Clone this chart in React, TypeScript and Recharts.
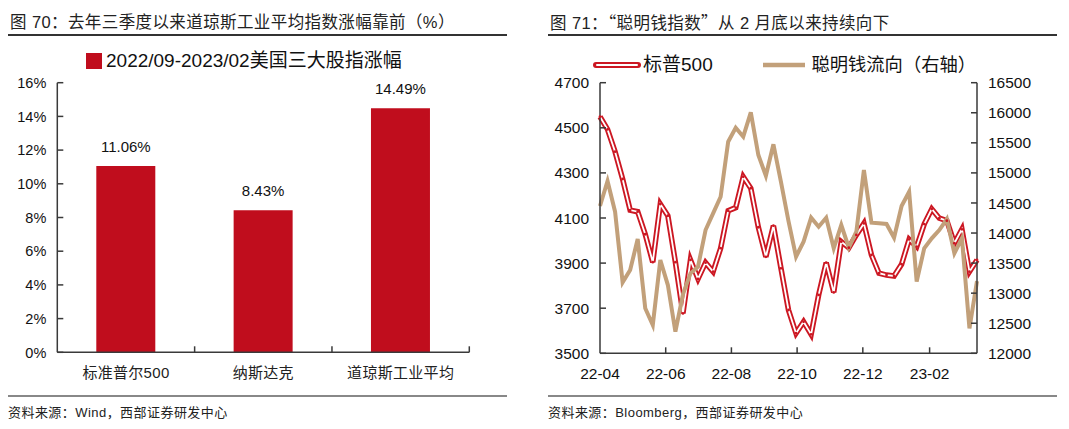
import React from 'react';
import { BarChart, Bar, XAxis, YAxis, LabelList, Legend, LineChart, Line } from 'recharts';

// ---------- Left chart data ----------
const barCategories = ['标准普尔500', '纳斯达克', '道琼斯工业平均'];
const barValues = [11.06, 8.43, 14.49];
const barYTicks = [0, 2, 4, 6, 8, 10, 12, 14, 16];
const barSeriesName = '2022/09-2023/02美国三大股指涨幅';

// ---------- Right chart data ----------
const weekDates = [
  '2022-04-01', '2022-04-08', '2022-04-15', '2022-04-22', '2022-04-29',
  '2022-05-06', '2022-05-13', '2022-05-20', '2022-05-27',
  '2022-06-03', '2022-06-10', '2022-06-17', '2022-06-24',
  '2022-07-01', '2022-07-08', '2022-07-15', '2022-07-22', '2022-07-29',
  '2022-08-05', '2022-08-12', '2022-08-19', '2022-08-26',
  '2022-09-02', '2022-09-09', '2022-09-16', '2022-09-23', '2022-09-30',
  '2022-10-07', '2022-10-14', '2022-10-21', '2022-10-28',
  '2022-11-04', '2022-11-11', '2022-11-18', '2022-11-25',
  '2022-12-02', '2022-12-09', '2022-12-16', '2022-12-23', '2022-12-30',
  '2023-01-06', '2023-01-13', '2023-01-20', '2023-01-27',
  '2023-02-03', '2023-02-10', '2023-02-17', '2023-02-24',
  '2023-03-03', '2023-03-10', '2023-03-17',
];
const spxValues = [
  4549, 4493, 4394, 4273, 4135, 4128, 4028, 3904, 4162, 4110,
  3904, 3677, 3914, 3830, 3902, 3862, 3966, 4132, 4146, 4283,
  4232, 4059, 3928, 4066, 3877, 3692, 3589, 3640, 3584, 3759,
  3902, 3770, 3995, 3968, 4025, 4076, 3936, 3855, 3847, 3843,
  3895, 4005, 3973, 4073, 4140, 4099, 4088, 3988, 4050, 3862,
  3914,
];
const smartMoneyValues = [
  14450, 14865, 14355, 13180, 13385, 13900, 12748, 12470, 13551, 13135,
  12359, 12980, 13330, 13440, 14050, 14328, 14604, 15519, 15752, 15602,
  16008, 15298, 14953, 15476, 14850, 14200, 13606, 13856, 14255, 14105,
  14255, 13746, 14133, 13756, 14022, 15048, 14172, 14162, 14150, 13922,
  14449, 14687, 13191, 13746, 13912, 14050, 14233, 13663, 13912, 12415,
  13200,
];
const lineXTickDates = ['2022-04-01', '2022-06-01', '2022-08-01', '2022-10-01', '2022-12-01', '2023-02-01'];
const spxTicks = [3500, 3700, 3900, 4100, 4300, 4500, 4700];
const smartTicks = [12000, 12500, 13000, 13500, 14000, 14500, 15000, 15500, 16000, 16500];
const spxName = '标普500';
const smartName = '聪明钱流向（右轴）';

// ---------- styles ----------
const FONT = "'Liberation Sans', Arial, 'Noto Sans CJK SC', sans-serif";
const CJKONLY = "'Noto Sans CJK SC', sans-serif";
const AX = '#3a3a3a';
const BAR = '#C00D1D';
const RED = '#CC1722';
const TAN = '#C2A07A';

const toTs = (s: string) => {
  const [y, m, d] = s.split('-').map(Number);
  return Date.UTC(y, m - 1, d);
};

const barData = barCategories.map((name, i) => ({ name, value: barValues[i] }));
const lineData = weekDates.map((d, i) => ({ t: toTs(d), spx: spxValues[i], smart: smartMoneyValues[i] }));
const lineXTicks = lineXTickDates.map(toTs);
const fmtMonth = (t: number) => {
  const d = new Date(t);
  const yy = String(d.getUTCFullYear()).slice(2);
  const mm = String(d.getUTCMonth() + 1).padStart(2, '0');
  return `${yy}-${mm}`;
};

const BAR_PLOT_W = 412;

function LeftYTick(props: any) {
  const { x, y, payload, fmt, size } = props;
  return (
    <g>
      <line x1={x} x2={x + 6} y1={y} y2={y} stroke={AX} strokeWidth={1.5} />
      <text x={x - 11} y={y} dy="0.36em" textAnchor="end" fill="#111" fontSize={size} fontFamily={FONT}>
        {fmt(payload.value)}
      </text>
    </g>
  );
}

function RightYTick(props: any) {
  const { x, y, payload, size } = props;
  return (
    <g>
      <line x1={x - 6} x2={x} y1={y} y2={y} stroke={AX} strokeWidth={1.5} />
      <text x={x + 11} y={y} dy="0.36em" textAnchor="start" fill="#111" fontSize={size} fontFamily={FONT}>
        {payload.value}
      </text>
    </g>
  );
}

function BarXTick(props: any) {
  const { x, y, payload } = props;
  const bx = x + BAR_PLOT_W / 6;
  return (
    <g>
      <line x1={bx} x2={bx} y1={y} y2={y - 6} stroke={AX} strokeWidth={1.5} />
      <text x={x} y={y + 20.5} dy="0.36em" textAnchor="middle" fill="#222" fontSize={15} fontFamily={FONT} letterSpacing={0.3}>
        {payload.value}
      </text>
    </g>
  );
}

function LineXTick(props: any) {
  const { x, y, payload, index } = props;
  return (
    <g>
      {index > 0 && <line x1={x} x2={x} y1={y} y2={y - 6} stroke={AX} strokeWidth={1.5} />}
      <text x={x} y={y + 20.5} dy="0.36em" textAnchor="middle" fill="#111" fontSize={15.5} fontFamily={FONT}>
        {fmtMonth(payload.value)}
      </text>
    </g>
  );
}

const titleStyle: React.CSSProperties = {
  position: 'absolute',
  top: 10,
  fontSize: 16.5,
  lineHeight: '24px',
  letterSpacing: 0.4,
  color: '#222',
  fontFamily: FONT,
  whiteSpace: 'nowrap',
};
const footStyle: React.CSSProperties = {
  position: 'absolute',
  top: 403,
  fontSize: 13,
  lineHeight: '20px',
  letterSpacing: 0.45,
  color: '#222',
  fontFamily: FONT,
  whiteSpace: 'nowrap',
};

export default function App() {
  return (
    <div style={{ position: 'absolute', left: 0, top: 0, width: 1069, height: 429, background: '#fff', overflow: 'hidden' }}>
      {/* titles */}
      <div style={{ ...titleStyle, left: 10 }}>图 70：去年三季度以来道琼斯工业平均指数涨幅靠前（%）</div>
      <div style={{ ...titleStyle, left: 550 }}>
        图 71：<span style={{ fontFamily: CJKONLY }}>“</span>聪明钱指数<span style={{ fontFamily: CJKONLY }}>”</span>从 2 月底以来持续向下
      </div>
      <div style={{ position: 'absolute', left: 8, top: 34, width: 499, height: 1.5, background: '#333' }} />
      <div style={{ position: 'absolute', left: 548, top: 34, width: 509, height: 1.5, background: '#333' }} />

      {/* left chart */}
      <div style={{ position: 'absolute', left: 0, top: 0 }}>
        <BarChart width={540} height={429} data={barData} margin={{ top: 82.7, right: 70.7, bottom: 46.7, left: 0 }}>
          <XAxis
            dataKey="name"
            height={30}
            interval={0}
            tickSize={0}
            tickMargin={0}
            tickLine={false}
            axisLine={{ stroke: AX, strokeWidth: 1.5 }}
            tick={<BarXTick />}
          />
          <YAxis
            width={57.3}
            domain={[0, 16]}
            ticks={barYTicks}
            interval={0}
            tickSize={0}
            tickMargin={0}
            tickLine={false}
            axisLine={{ stroke: AX, strokeWidth: 1.5 }}
            tick={<LeftYTick fmt={(v: number) => `${v}%`} size={14.5} />}
          />
          <Legend
            verticalAlign="middle"
            align="center"
            layout="horizontal"
            wrapperStyle={{ top: 0, left: 0, width: 540, height: 80 }}
            content={() => (
              <div style={{ position: 'relative', width: 540, height: 80 }}>
                <div style={{ position: 'absolute', left: 86, top: 53, width: 15.5, height: 15.5, background: BAR }} />
                <div style={{ position: 'absolute', left: 106, top: 48, fontSize: 19, lineHeight: '26px', color: '#111', fontFamily: FONT, whiteSpace: 'nowrap' }}>
                  {barSeriesName}
                </div>
              </div>
            )}
          />
          <Bar dataKey="value" fill={BAR} barSize={59} isAnimationActive={false}>
            <LabelList
              dataKey="value"
              position="top"
              offset={14}
              formatter={(v: any) => `${Number(v).toFixed(2)}%`}
              fill="#111"
              fontSize={15}
              fontFamily={FONT}
            />
          </Bar>
        </BarChart>
      </div>

      {/* right chart */}
      <div style={{ position: 'absolute', left: 540, top: 0 }}>
        <LineChart width={529} height={429} data={lineData} margin={{ top: 82.7, right: 32, bottom: 45.7, left: 0 }}>
          <XAxis
            dataKey="t"
            type="number"
            domain={[lineData[0].t, lineData[lineData.length - 1].t]}
            ticks={lineXTicks}
            interval={0}
            height={30}
            tickSize={0}
            tickMargin={0}
            tickLine={false}
            axisLine={{ stroke: AX, strokeWidth: 1.5 }}
            tick={<LineXTick />}
          />
          <YAxis
            yAxisId="left"
            width={60}
            domain={[3500, 4700]}
            ticks={spxTicks}
            interval={0}
            tickSize={0}
            tickMargin={0}
            tickLine={false}
            axisLine={{ stroke: AX, strokeWidth: 1.5 }}
            tick={<LeftYTick fmt={(v: number) => `${v}`} size={15.5} />}
          />
          <YAxis
            yAxisId="right"
            orientation="right"
            width={60}
            domain={[12000, 16500]}
            ticks={smartTicks}
            interval={0}
            tickSize={0}
            tickMargin={0}
            tickLine={false}
            axisLine={{ stroke: AX, strokeWidth: 1.5 }}
            tick={<RightYTick size={15.5} />}
          />
          <Legend
            verticalAlign="middle"
            align="center"
            layout="horizontal"
            wrapperStyle={{ top: 0, left: 0, width: 529, height: 80 }}
            content={() => (
              <div style={{ position: 'relative', width: 529, height: 80 }}>
                <svg style={{ position: 'absolute', left: 52, top: 58 }} width={50} height={14}>
                  <line x1={4} x2={46} y1={7} y2={7} stroke={RED} strokeWidth={6} strokeLinecap="round" />
                  <line x1={5} x2={45} y1={7} y2={7} stroke="#fff" strokeWidth={2} strokeLinecap="round" />
                </svg>
                <div style={{ position: 'absolute', left: 103, top: 52, fontSize: 19, lineHeight: '26px', color: '#111', fontFamily: FONT, whiteSpace: 'nowrap' }}>
                  {spxName}
                </div>
                <svg style={{ position: 'absolute', left: 220, top: 58 }} width={50} height={14}>
                  <line x1={3} x2={45} y1={7} y2={7} stroke={TAN} strokeWidth={4.5} />
                </svg>
                <div style={{ position: 'absolute', left: 271.5, top: 52, fontSize: 18.3, lineHeight: '26px', color: '#111', fontFamily: FONT, whiteSpace: 'nowrap' }}>
                  {smartName}
                </div>
              </div>
            )}
          />
          <Line
            yAxisId="left"
            dataKey="spx"
            stroke={RED}
            strokeWidth={5.5}
            dot={false}
            activeDot={false}
            isAnimationActive={false}
            legendType="none"
          />
          <Line
            yAxisId="left"
            dataKey="spx"
            stroke="#fff"
            strokeWidth={1.8}
            dot={{ r: 1.4, fill: RED, stroke: 'none' }}
            activeDot={false}
            isAnimationActive={false}
            legendType="none"
          />
          <Line
            yAxisId="right"
            dataKey="smart"
            stroke={TAN}
            strokeWidth={4}
            dot={false}
            activeDot={false}
            isAnimationActive={false}
            legendType="none"
          />
        </LineChart>
      </div>

      {/* footers */}
      <div style={{ position: 'absolute', left: 8, top: 395, width: 499, height: 1.5, background: '#888' }} />
      <div style={{ position: 'absolute', left: 548, top: 395, width: 509, height: 1.5, background: '#888' }} />
      <div style={{ ...footStyle, left: 8 }}>资料来源：Wind，西部证券研发中心</div>
      <div style={{ ...footStyle, left: 548 }}>资料来源：Bloomberg，西部证券研发中心</div>
    </div>
  );
}
